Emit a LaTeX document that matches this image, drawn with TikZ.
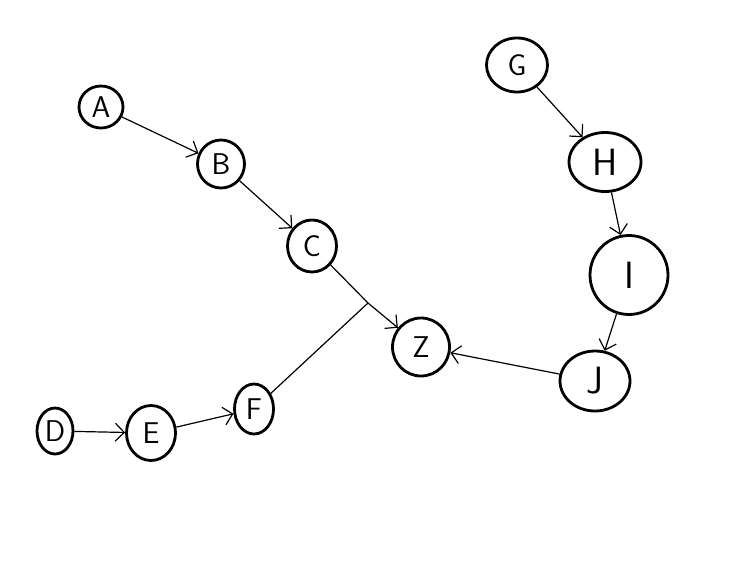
\documentclass[tikz,border=0pt]{standalone}
\usetikzlibrary{shapes.geometric,arrows.meta}
\begin{document}
\begin{tikzpicture}
[x=1pt,y=-1pt,>={Straight Barb[length=9pt,width=18pt]},
state/.style = {draw, ellipse, line width=2.8pt, inner sep=0pt, font=\fontsize{30}{32}\sffamily},
big/.style = {font=\fontsize{38}{40}\sffamily},
edge/.style = {line width=1.2pt},]

\useasboundingbox (0,0) rectangle (741,576);
\fill[white] (0,0) rectangle (741,576);

\node (A) at (101,107)[state,minimum width=44pt,minimum height=42pt] {A};
\node (B) at (221,164)[state,minimum width=47pt,minimum height=48pt] {B};
\node (C) at (312,246)[state,minimum width=49pt,minimum height=52pt] {C};
\node (Z) at (421,347)[state,minimum width=57pt,minimum height=58pt] {Z};
\node (D) at (55,431)[state,minimum width=36pt,minimum height=46pt] {D};
\node (E) at (151,433)[state,minimum width=49pt,minimum height=55pt] {E};
\node (F) at (254,409)[state,minimum width=39pt,minimum height=50pt] {F};
\node (G) at (517,65)[state,minimum width=61pt,minimum height=54pt] {G};
\node (H) at (605,162)[state,big,minimum width=72pt,minimum height=59pt] {H};
\node (I) at (629,275)[state,big,minimum width=78pt,minimum height=79pt] {I};
\node (J) at (595,381)[state,big,minimum width=70pt,minimum height=60pt] {J};
\coordinate (M) at (368,303);

\draw [edge,->] (A)--(B);
\draw [edge,->] (B)--(C);
\draw [edge,->] (C)--(M)--(Z);
\draw [edge] (F)--(M);
\draw [edge,->] (D)--(E);
\draw [edge,->] (E)--(F);
\draw [edge,->] (G)--(H);
\draw [edge,->] (H)--(I);
\draw [edge,->] (I)--(J);
\draw [edge,->] (J)--(Z);

\end{tikzpicture}
\end{document}
